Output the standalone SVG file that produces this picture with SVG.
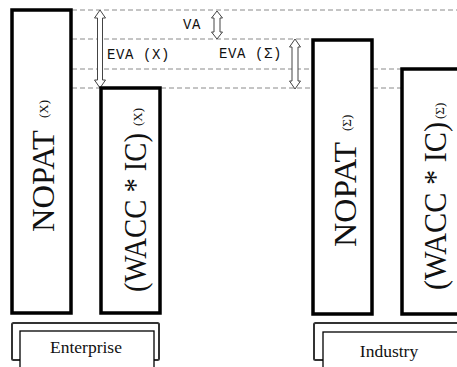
<svg xmlns="http://www.w3.org/2000/svg" width="457" height="367" viewBox="0 0 457 367">
<style>
.bar{fill:#fff;stroke:#000;stroke-width:3.5}
.dash{stroke:#8a8a8a;stroke-width:1;stroke-dasharray:5,3;fill:none}
.arr{fill:#fff;stroke:#444;stroke-width:1}
.lbl{font-family:"Liberation Mono",monospace;font-size:14px;letter-spacing:0.6px;fill:#111}
.big{font-family:"Liberation Serif",serif;font-size:31px;fill:#111}
.sub{font-family:"Liberation Serif",serif;font-size:13px;fill:#111}
.frame{fill:#fff;stroke:#000;stroke-width:1.3}
.outer{fill:#fff;stroke:#333;stroke-width:2}
.cap{font-family:"Liberation Serif",serif;font-size:17.5px;fill:#111;text-anchor:middle}
</style>
<rect width="457" height="367" fill="#fff"/>
<g id="connectors">
<line class="dash" x1="72" y1="10" x2="457" y2="10"/>
<line class="dash" x1="72" y1="39" x2="312" y2="39"/>
<line class="dash" x1="72" y1="69" x2="312" y2="69"/>
<line class="dash" x1="373" y1="69" x2="401" y2="69"/>
<line class="dash" x1="72" y1="88" x2="100" y2="88"/>
<line class="dash" x1="161" y1="88" x2="312" y2="88"/>
<line class="dash" x1="373" y1="88" x2="401" y2="88"/>
<polygon class="arr" points="100,10 105.5,18 102.5,18 102.5,80 105.5,80 100,88 94.5,80 97.5,80 97.5,18 94.5,18"/>
<polygon class="arr" points="217,11 222.5,18 220,18 220,32 222.5,32 217,39 211.5,32 214,32 214,18 211.5,18"/>
<polygon class="arr" points="295,39 300.5,47 298,47 298,81 300.5,81 295,89 289.5,81 292,81 292,47 289.5,47"/>
<text class="lbl" x="183" y="29">VA</text>
<text class="lbl" x="107" y="59">EVA (X)</text>
<text class="lbl" x="219" y="58">EVA (Σ)</text>
</g>
<g id="enterprise-nopat">
<rect class="bar" x="12" y="10" width="59" height="303"/>
<text class="big" transform="translate(54,232) rotate(-90)" textLength="102" lengthAdjust="spacingAndGlyphs">NOPAT</text>
<text class="sub" transform="translate(48,118) rotate(-90)">(X)</text>
</g>
<g id="enterprise-wacc">
<rect class="bar" x="101" y="88" width="59" height="225"/>
<text class="big" transform="translate(146,292) rotate(-90)" textLength="159" lengthAdjust="spacingAndGlyphs">(WACC * IC)</text>
<text class="sub" transform="translate(142,126) rotate(-90)">(X)</text>
</g>
<g id="industry-nopat">
<rect class="bar" x="313" y="40" width="59" height="274"/>
<text class="big" transform="translate(356,247) rotate(-90)" textLength="105" lengthAdjust="spacingAndGlyphs">NOPAT</text>
<text class="sub" transform="translate(351,131) rotate(-90)">(Σ)</text>
</g>
<g id="industry-wacc">
<rect class="bar" x="402" y="69" width="70" height="245"/>
<text class="big" transform="translate(446,290) rotate(-90)" textLength="168" lengthAdjust="spacingAndGlyphs">(WACC * IC)</text>
<text class="sub" transform="translate(444,119) rotate(-90)">(Σ)</text>
</g>
<g id="enterprise">
<rect class="outer" x="12" y="323" width="147" height="37" rx="1.5"/>
<rect class="frame" x="20" y="331" width="134" height="50"/>
<text class="cap" x="86" y="353">Enterprise</text>
</g>
<g id="industry">
<rect class="outer" x="314" y="323" width="160" height="37" rx="1.5"/>
<rect class="frame" x="323" y="332" width="150" height="50"/>
<text class="cap" x="389" y="357">Industry</text>
</g>
</svg>
